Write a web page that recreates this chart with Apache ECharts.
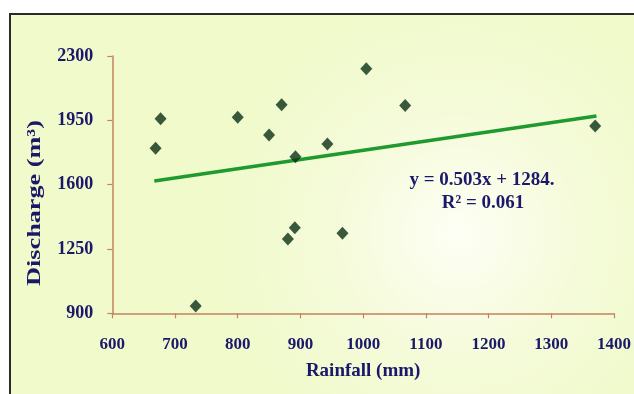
<!DOCTYPE html>
<html>
<head>
<meta charset="utf-8">
<script src="https://cdn.jsdelivr.net/npm/echarts@6/dist/echarts.min.js"></script>
<style>
html,body{margin:0;padding:0;background:#ffffff;}
#c{width:634px;height:394px;}
</style>
</head>
<body>
<div id="c"></div>
<script>
// Data
var rainfall = [669, 677, 733, 800, 850, 870, 892, 880, 891, 943, 967, 1005, 1067, 1370];
var discharge = [1798, 1958, 940, 1967, 1870, 2035, 1752, 1304, 1366, 1821, 1335, 2230, 2030, 1919];
var trendX = [667, 1372];
var trendY = [1620, 1974];
var xTicks = [600, 700, 800, 900, 1000, 1100, 1200, 1300, 1400];
var yTicks = [900, 1250, 1600, 1950, 2300];
var equationText = 'y = 0.503x + 1284.';
var r2Text = 'R² = 0.061';
var xTitle = 'Rainfall (mm)';
var yTitle = 'Discharge (m³)';

var points = rainfall.map(function (x, i) { return [x, discharge[i]]; });
var trend = trendX.map(function (x, i) { return [x, trendY[i]]; });

var navy = '#1b186a';
var font = '"Liberation Serif", "Times New Roman", serif';
var axisColor = '#c98060';

var chart = echarts.init(document.getElementById('c'), null, {renderer: 'canvas'});
chart.setOption({
  animation: false,
  backgroundColor: '#ffffff',
  graphic: [
    {
      type: 'rect', z: -10, silent: true,
      shape: {x: 10, y: 14, width: 640, height: 400},
      style: {
        fill: new echarts.graphic.RadialGradient(0.7, 0.55, 0.6, [
          {offset: 0, color: '#fdfff5'},
          {offset: 0.5, color: '#f5fbda'},
          {offset: 1, color: '#f0facb'}
        ]),
        stroke: '#2a2a2a', lineWidth: 2
      }
    },
    {
      type: 'text', silent: true, rotation: Math.PI / 2,
      x: 35, y: 203, scaleX: 1.38, scaleY: 1,
      style: {
        text: yTitle, fill: navy, font: 'bold 19px ' + font,
        align: 'center', verticalAlign: 'middle'
      }
    },
    {
      type: 'text', silent: true,
      x: 482, y: 180,
      style: {
        text: equationText, fill: navy, font: 'bold 19px ' + font,
        align: 'center', verticalAlign: 'middle'
      }
    },
    {
      type: 'text', silent: true,
      x: 483, y: 203,
      style: {
        text: r2Text, fill: navy, font: 'bold 19px ' + font,
        align: 'center', verticalAlign: 'middle'
      }
    }
  ],
  grid: {left: 112.3, right: 17.3, top: 56, bottom: 80.7, containLabel: false},
  xAxis: {
    type: 'value', min: 600, max: 1400, interval: 100,
    name: xTitle, nameLocation: 'middle', nameGap: 48,
    nameTextStyle: {color: navy, fontFamily: font, fontWeight: 'bold', fontSize: 19},
    axisLine: {show: true, onZero: false, lineStyle: {color: axisColor, width: 1.5}},
    axisTick: {show: true, inside: false, length: 5, lineStyle: {color: axisColor, width: 1.2}},
    axisLabel: {
      color: navy, fontFamily: font, fontWeight: 'bold', fontSize: 17, margin: 23,
      customValues: xTicks,
      formatter: function (v) { return String(v); }
    },
    splitLine: {show: false}
  },
  yAxis: {
    type: 'value', min: 900, max: 2300, interval: 350,
    axisLine: {show: true, onZero: false, lineStyle: {color: axisColor, width: 1.5}},
    axisTick: {show: true, inside: false, length: 5, lineStyle: {color: axisColor, width: 1.2}},
    axisLabel: {
      color: navy, fontFamily: font, fontWeight: 'bold', fontSize: 18, margin: 19,
      customValues: yTicks,
      formatter: function (v) { return String(v); }
    },
    splitLine: {show: false}
  },
  series: [
    {
      type: 'line', data: trend, showSymbol: false, symbol: 'none',
      lineStyle: {color: '#1f9a2e', width: 3.5}, z: 2, silent: true
    },
    {
      type: 'scatter', data: points, symbol: 'diamond', symbolSize: [12, 13],
      itemStyle: {color: '#0b2f14'}, z: 3
    }
  ]
});
</script>
</body>
</html>
